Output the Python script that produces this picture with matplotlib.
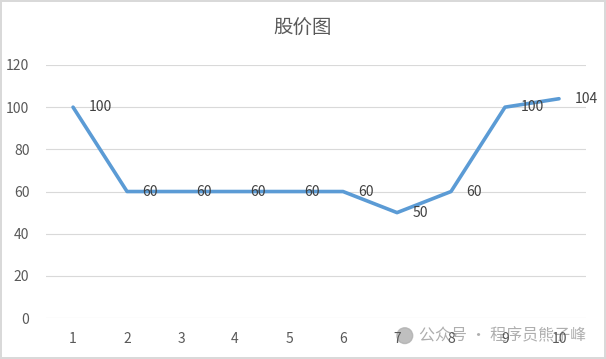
import matplotlib.pyplot as plt
from matplotlib.patches import Ellipse

plt.rcParams['font.family'] = ['Noto Sans CJK SC', 'DejaVu Sans']

# 数据
days = [1, 2, 3, 4, 5, 6, 7, 8, 9, 10]
prices = [100, 60, 60, 60, 60, 60, 50, 60, 100, 104]
title = '股价图'

fig = plt.figure(figsize=(6.06, 3.59), dpi=100)
fig.patch.set_edgecolor('#D9D9D9')
fig.patch.set_linewidth(1.5)
ax = fig.add_axes([0.076, 0.114, 0.891, 0.705])

ax.plot(days, prices, color='#5B9BD5', linewidth=2.6, solid_capstyle='round', zorder=3)
for d, p in zip(days, prices):
    ax.annotate(str(p), (d, p), xytext=(11, 0), textcoords='offset points',
                ha='left', va='center', fontsize=10, color='#404040')

ax.set_xlim(0.5, 10.5)
ax.set_ylim(0, 120)
ax.set_xticks(days)
ax.set_yticks(range(0, 121, 20))
ax.tick_params(length=0, labelsize=10, labelcolor='#595959')
ax.tick_params(axis='x', pad=10)
ax.tick_params(axis='y', pad=12)
ax.grid(axis='y', color='#D9D9D9', linewidth=0.8)
ax.set_axisbelow(True)
for s in ax.spines.values():
    s.set_visible(False)

fig.text(0.5, 0.922, title, ha='center', va='center', fontsize=14, color='#595959')

# 水印 (画在坐标轴下面, 刻度数字压在上面)
fig.text(0.968, 0.065, '公众号 · 程序员熊子峰', ha='right', va='center',
         fontsize=11.5, color='#9A9A9A', alpha=0.8, zorder=-2)
fig.patches.append(Ellipse((0.668, 0.065), 0.026, 0.026 * 606 / 359,
                           transform=fig.transFigure, color='#B0B0B0', alpha=0.8,
                           zorder=-2))

fig.savefig('out.png', dpi=100)
